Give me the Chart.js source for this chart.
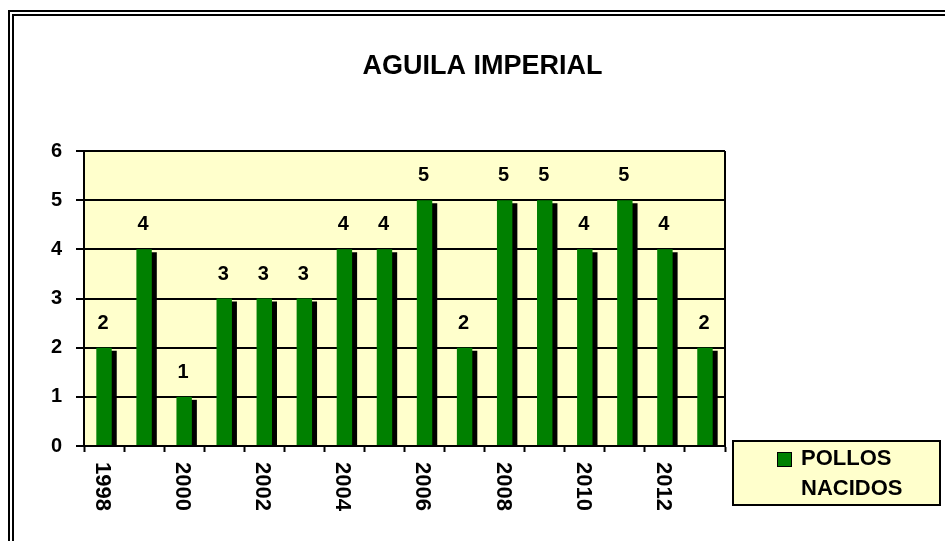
<!DOCTYPE html>
<html>
<head>
<meta charset="utf-8">
<title>AGUILA IMPERIAL</title>
<script src="https://cdn.jsdelivr.net/npm/chart.js@4.4.1/dist/chart.umd.min.js"></script>
<style>
    html, body { margin: 0; padding: 0; background: #fff; overflow: hidden; }
    #frame {
        position: absolute; left: 8px; top: 10px; width: 1000px; height: 600px;
        border-left: 6px double #000; border-top: 6px double #000;
    }
    #wrap { position: absolute; left: 0; top: 0; width: 945px; height: 541px; }
</style>
</head>
<body>
<div id="frame"></div>
<div id="wrap"><canvas id="chart"></canvas></div>
<script>
// data
const years = ['1998', '1999', '2000', '2001', '2002', '2003', '2004', '2005',
               '2006', '2007', '2008', '2009', '2010', '2011', '2012', '2013'];
const pollosNacidos = [2, 4, 1, 3, 3, 3, 4, 4, 5, 2, 5, 5, 4, 5, 4, 2];
const yearTickLabels = ['1998', '', '2000', '', '2002', '', '2004', '',
                        '2006', '', '2008', '', '2010', '', '2012', ''];
const seriesName = ['POLLOS', 'NACIDOS'];
const yTicks = [0, 1, 2, 3, 4, 5, 6];

const FONT = "'Liberation Sans', Arial, sans-serif";
const PLOT_BG = '#FFFFCC';
const GREEN = '#008000';

Chart.defaults.color = '#000';
Chart.defaults.font.family = FONT;

// yellow plot background + right border
const plotFrame = {
    id: 'plotFrame',
    beforeDraw(chart) {
        const { ctx, chartArea: a } = chart;
        ctx.save();
        ctx.fillStyle = PLOT_BG;
        ctx.fillRect(a.left, a.top, a.right - a.left, a.bottom - a.top);
        ctx.restore();
    },
    afterDraw(chart) {
        const { ctx, chartArea: a } = chart;
        ctx.save();
        ctx.strokeStyle = '#000';
        ctx.lineWidth = 2;
        ctx.beginPath();
        ctx.moveTo(a.right, a.top);
        ctx.lineTo(a.right, a.bottom + 1);
        ctx.stroke();
        ctx.restore();
    }
};

// hard black drop shadow behind the bars (Excel style)
const barShadow = {
    id: 'barShadow',
    beforeDatasetsDraw(chart) {
        const ctx = chart.ctx;
        ctx.save();
        ctx.shadowColor = '#000';
        ctx.shadowBlur = 0;
        ctx.shadowOffsetX = 5;
        ctx.shadowOffsetY = 3;
    },
    afterDatasetsDraw(chart) {
        chart.ctx.restore();
    }
};

// value labels above bars, rotated year labels, legend box
const annotations = {
    id: 'annotations',
    afterDraw(chart) {
        const { ctx, chartArea: a } = chart;
        const meta = chart.getDatasetMeta(0);
        const xScale = chart.scales.x;

        ctx.save();
        ctx.fillStyle = '#000';
        ctx.font = `bold 20px ${FONT}`;
        ctx.textAlign = 'center';
        ctx.textBaseline = 'alphabetic';
        meta.data.forEach((bar, i) => {
            ctx.fillText(String(pollosNacidos[i]), bar.x - 1, bar.y - 19);
        });

        ctx.font = `bold 22px ${FONT}`;
        ctx.textAlign = 'left';
        ctx.textBaseline = 'middle';
        yearTickLabels.forEach((lab, i) => {
            if (!lab) return;
            const x = xScale.getPixelForValue(i) - 2;
            ctx.save();
            ctx.translate(x, a.bottom + 16);
            ctx.rotate(Math.PI / 2);
            ctx.fillText(lab, 0, 0);
            ctx.restore();
        });

        // legend
        const lx = a.right + 8, ly = a.bottom - 5, lw = 207, lh = 64;
        ctx.fillStyle = PLOT_BG;
        ctx.fillRect(lx, ly, lw, lh);
        ctx.strokeStyle = '#000';
        ctx.lineWidth = 2;
        ctx.strokeRect(lx, ly, lw, lh);
        ctx.fillStyle = GREEN;
        ctx.fillRect(lx + 44.5, ly + 11.5, 14, 14);
        ctx.lineWidth = 1;
        ctx.strokeRect(lx + 44.5, ly + 11.5, 14, 14);
        ctx.fillStyle = '#000';
        ctx.font = `bold 22px ${FONT}`;
        ctx.textBaseline = 'middle';
        const lines = chart.data.datasets[0].label;
        lines.forEach((t, k) => ctx.fillText(t, lx + 68, ly + 18 + k * 29.5));
        ctx.restore();
    }
};

new Chart(document.getElementById('chart'), {
    type: 'bar',
    data: {
        labels: years,
        datasets: [{
            label: seriesName,
            data: pollosNacidos,
            backgroundColor: GREEN,
            borderWidth: 0,
            barPercentage: 0.385,
            categoryPercentage: 1,
            clip: 0
        }]
    },
    options: {
        responsive: true,
        maintainAspectRatio: false,
        animation: false,
        layout: { padding: { left: 20, right: 0, top: 0, bottom: 0 } },
        plugins: {
            legend: { display: false },
            tooltip: { enabled: false },
            title: {
                display: true,
                text: 'AGUILA IMPERIAL',
                color: '#000',
                font: { size: 27, weight: 'bold', family: FONT },
                padding: { top: 50, bottom: 68.6 }
            }
        },
        scales: {
            x: {
                grid: {
                    drawOnChartArea: false,
                    drawTicks: true,
                    tickLength: 6,
                    tickColor: '#000',
                    tickWidth: 2
                },
                border: { display: true, color: '#000', width: 2 },
                ticks: { display: false },
                afterFit: s => { s.height = 95; }
            },
            y: {
                min: 0,
                max: 6,
                afterBuildTicks: s => { s.ticks = yTicks.map(v => ({ value: v })); },
                grid: {
                    color: '#000',
                    lineWidth: 2,
                    drawTicks: true,
                    tickLength: 8,
                    tickColor: '#000'
                },
                border: { display: true, color: '#000', width: 2 },
                ticks: {
                    padding: 14,
                    color: '#000',
                    font: { size: 20, weight: 'bold', family: FONT }
                },
                afterFit: s => { s.width = 64; }
            },
            // empty right-hand axis that reserves room for the legend
            legendSpace: {
                position: 'right',
                min: 0,
                max: 6,
                grid: { display: false, drawTicks: false },
                border: { display: false },
                ticks: { display: false },
                afterFit: s => { s.width = 220; }
            }
        }
    },
    plugins: [plotFrame, barShadow, annotations]
});
</script>
</body>
</html>
